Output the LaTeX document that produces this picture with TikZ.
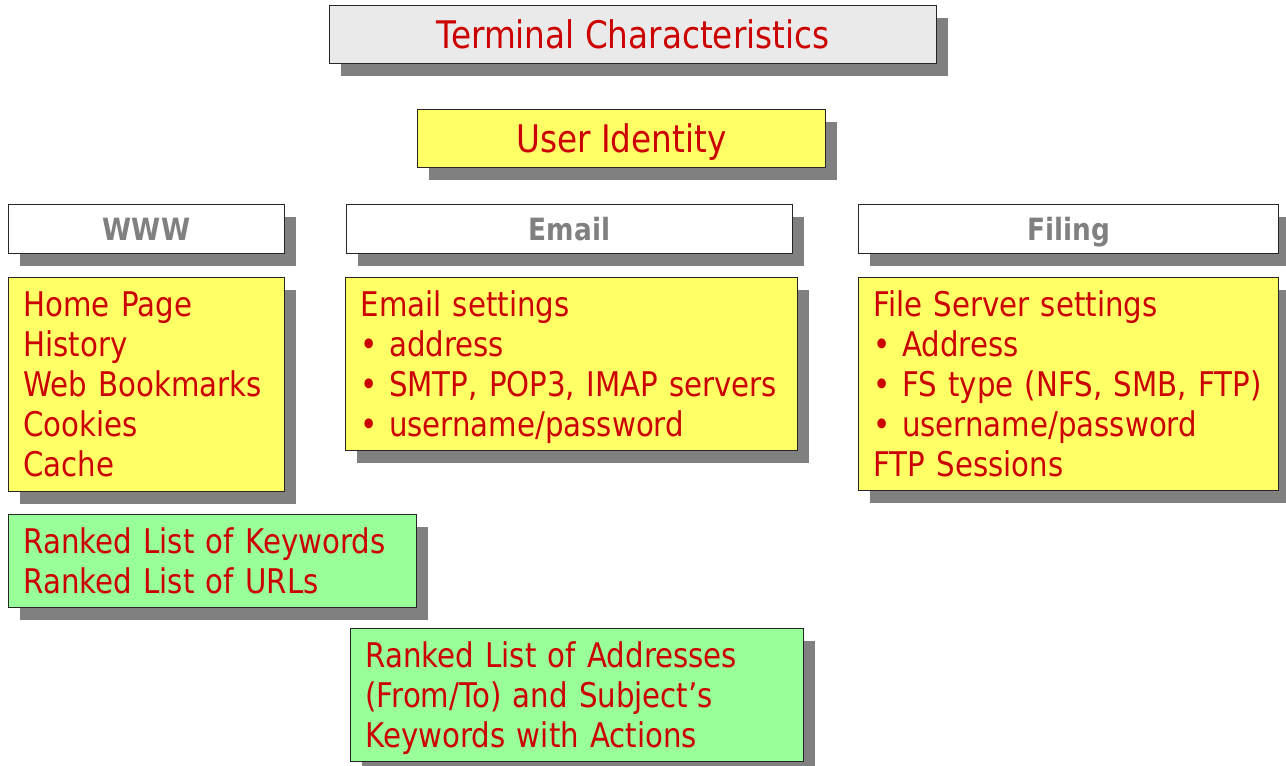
\documentclass[tikz,border=0pt]{standalone}
\usepackage{fontspec}
\setmainfont{DejaVu Sans}[FakeStretch=0.86]
\usetikzlibrary{shadows}
\definecolor{txtred}{HTML}{CC0000}
\definecolor{boxyellow}{HTML}{FFFF66}
\definecolor{boxgreen}{HTML}{99FF99}
\definecolor{boxgrey}{HTML}{EAEAEA}
\definecolor{shadegrey}{HTML}{808080}
\newdimen\px
\px=0.75pt

\begin{document}
\begin{tikzpicture}[x=0.75pt, y=-0.75pt,
    card/.style={draw=black!85, line width=0.8pt, anchor=north west, inner xsep=15\px, inner ysep=0pt,
      drop shadow={shadow xshift=11\px, shadow yshift=-12\px, fill=shadegrey, opacity=1},
      font=\fontsize{25.5}{30}\selectfont, text=txtred},
    titlebox/.style={card, align=center, text depth=0pt, font=\fontsize{28.5}{34}\selectfont},
    listbox/.style={card, align=left},
    headbox/.style={card, fill=white, align=center, text depth=0pt, text=shadegrey, font=\fontsize{23}{27}\selectfont\bfseries}
  ]
\useasboundingbox (0,0) rectangle (1286,766);

% Top boxes
\node[titlebox, fill=boxgrey, minimum width=607\px, minimum height=58\px] (term) at (329,5) {Terminal Characteristics};
\node[titlebox, fill=boxyellow, minimum width=408\px, minimum height=58\px] (user) at (417,109) {User Identity};

% Column headers
\node[headbox, minimum width=276\px, minimum height=49\px] (hwww) at (8,204) {WWW};
\node[headbox, minimum width=446\px, minimum height=49\px] (hemail) at (346,204) {Email};
\node[headbox, minimum width=420\px, minimum height=49\px] (hfiling) at (858,204) {Filing};

% Settings per column
\node[listbox, fill=boxyellow, text width=246\px, minimum height=214\px] (www) at (8,277)
  {Home Page\\History\\Web Bookmarks\\Cookies\\Cache};
\node[listbox, fill=boxyellow, text width=422\px, minimum height=173\px] (email) at (345,277)
  {Email settings\\• address\\• SMTP, POP3, IMAP servers\\\smash{• username/password}};
\node[listbox, fill=boxyellow, text width=390\px, minimum height=213\px] (filing) at (858,277)
  {File Server settings\\• Address\\• FS type (NFS, SMB, FTP)\\• username/password\\FTP Sessions};

% Ranked lists
\node[listbox, fill=boxgreen, text width=378\px, minimum height=93\px] (kw) at (8,514)
  {Ranked List of Keywords\\Ranked List of URLs};
\node[listbox, fill=boxgreen, text width=423\px, minimum height=133\px] (addr) at (350,628)
  {Ranked List of Addresses\\(From/To) and Subject’s\\\smash{Keywords with Actions}};

\end{tikzpicture}
\end{document}
